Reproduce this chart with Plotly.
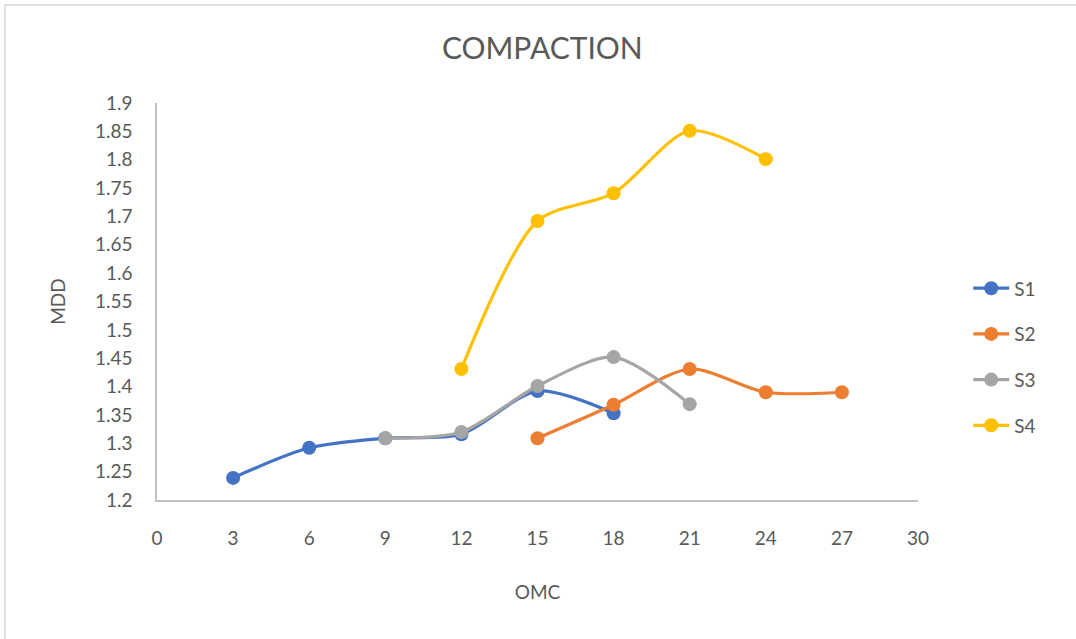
import plotly.graph_objects as go

# Data
s1_x = [3, 6, 9, 12, 15, 18]
s1_y = [1.239, 1.292, 1.309, 1.316, 1.392, 1.353]
s2_x = [15, 18, 21, 24, 27]
s2_y = [1.309, 1.368, 1.431, 1.390, 1.390]
s3_x = [9, 12, 15, 18, 21]
s3_y = [1.309, 1.320, 1.401, 1.452, 1.369]
s4_x = [12, 15, 18, 21, 24]
s4_y = [1.431, 1.692, 1.741, 1.851, 1.801]

series_names = ["S1", "S2", "S3", "S4"]
series_x = [s1_x, s2_x, s3_x, s4_x]
series_y = [s1_y, s2_y, s3_y, s4_y]
colors = ["#4472C4", "#ED7D31", "#A5A5A5", "#FFC000"]

x_ticks = [0, 3, 6, 9, 12, 15, 18, 21, 24, 27, 30]
y_ticks = [1.2, 1.25, 1.3, 1.35, 1.4, 1.45, 1.5, 1.55, 1.6, 1.65, 1.7, 1.75, 1.8, 1.85, 1.9]

FONT = "Lato"
TXT = "#595959"

fig = go.Figure()
for name, xs, ys, c in zip(series_names, series_x, series_y, colors):
    fig.add_trace(go.Scatter(
        x=xs, y=ys, name=name, mode="lines+markers",
        line=dict(color=c, width=3.2, shape="spline", smoothing=0.8),
        marker=dict(color=c, size=14),
        legendgroup=name,
    ))

fig.update_layout(
    width=1076, height=639,
    paper_bgcolor="white", plot_bgcolor="white",
    margin=dict(l=157, r=158, t=103, b=139),
    font=dict(family=FONT, color=TXT, size=19),
    title=dict(text="COMPACTION", x=0.504, xref="container", y=1 - 48 / 639,
               yref="container", xanchor="center", yanchor="middle",
               font=dict(family=FONT, size=30, color=TXT)),
    showlegend=True,
    legend=dict(x=1.066, xanchor="left", y=0.581, yanchor="top",
                tracegroupgap=18, itemwidth=36, font=dict(size=19, color=TXT),
                bgcolor="rgba(0,0,0,0)"),
    xaxis=dict(range=[0, 30], tickvals=x_ticks, ticktext=[str(v) for v in x_ticks],
               showgrid=False, zeroline=False, showline=True, linecolor="#BFBFBF",
               linewidth=1.5, ticks="", ticklabelstandoff=20,
               title=dict(text="OMC", standoff=38, font=dict(size=19, color=TXT))),
    yaxis=dict(range=[1.2, 1.9], tickvals=y_ticks, ticktext=[f"{v:g}" for v in y_ticks],
               showgrid=False, zeroline=False, showline=True, linecolor="#BFBFBF",
               linewidth=1.5, ticks="", ticklabelstandoff=19,
               title=dict(text="MDD", standoff=24, font=dict(size=19, color=TXT))),
)

# light chart-area border
fig.add_shape(type="rect", xref="paper", yref="paper",
              x0=(5 - 157) / 761, x1=(1090 - 157) / 761,
              y0=(500 - 660) / 397, y1=(500 - 5) / 397,
              line=dict(color="#E0E0E0", width=2), fillcolor="rgba(0,0,0,0)", layer="below")

fig.write_html("out.html", config={"displayModeBar": False},
               post_script="document.body.style.margin='0';")
